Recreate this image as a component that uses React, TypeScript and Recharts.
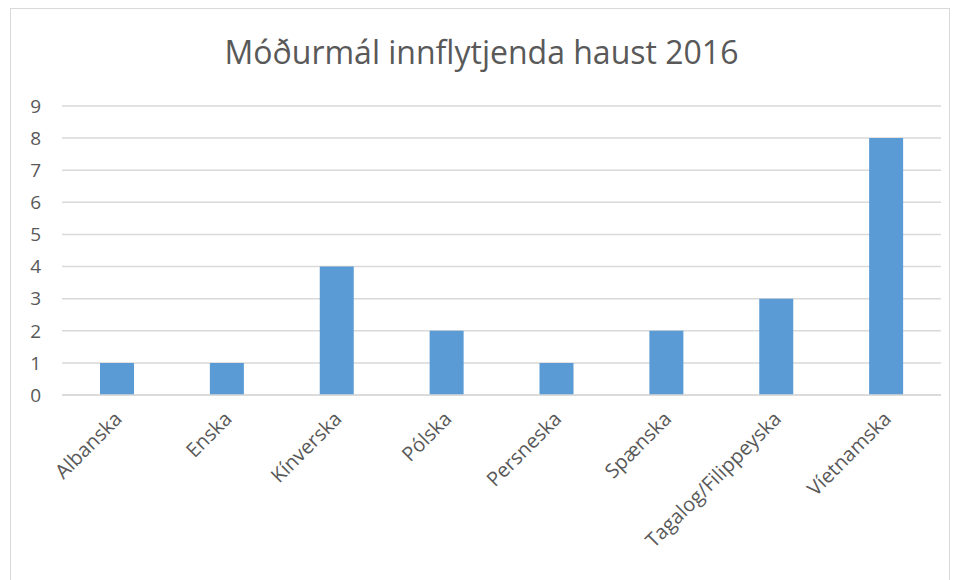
import { BarChart, Bar, XAxis, YAxis, CartesianGrid } from 'recharts'

const LANGUAGES = [
  'Albanska',
  'Enska',
  'Kínverska',
  'Pólska',
  'Persneska',
  'Spænska',
  'Tagalog/Filippeyska',
  'Víetnamska',
]
const COUNTS = [1, 1, 4, 2, 1, 2, 3, 8]
const Y_TICKS = [0, 1, 2, 3, 4, 5, 6, 7, 8, 9]

const TITLE = 'Móðurmál innflytjenda haust 2016'
const BAR_COLOUR = '#5b9bd5'
const TEXT_COLOUR = '#595959'
const GRID_COLOUR = '#d9d9d9'
const FONT = '"Open Sans", Lato, sans-serif'

const data = LANGUAGES.map((name, i) => ({ name, value: COUNTS[i] }))

// rotated category label, anchored at its end just under the tick
function SlantTick({ x, y, payload }: { x?: number; y?: number; payload?: { value: string } }) {
  return (
    <g transform={`translate(${(x ?? 0) + 2},${(y ?? 0) + 13})`}>
      <text
        transform="rotate(-45)"
        textAnchor="end"
        dy={6}
        fill={TEXT_COLOUR}
        fontSize={20}
        fontFamily={FONT}
      >
        {payload?.value}
      </text>
    </g>
  )
}

export default function App() {
  return (
    <div style={{ position: 'absolute', left: 0, top: 0, width: 958, height: 580, background: '#fff', overflow: 'hidden' }}>
      <div
        style={{
          position: 'absolute',
          left: 10,
          top: 8,
          width: 940,
          height: 600,
          border: `1px solid ${GRID_COLOUR}`,
          boxSizing: 'border-box',
        }}
      />
      <div
        style={{
          position: 'absolute',
          left: 0,
          top: 28,
          width: 963,
          textAlign: 'center',
          fontFamily: FONT,
          fontSize: 32,
          color: TEXT_COLOUR,
          lineHeight: '48px',
        }}
      >
        {TITLE}
      </div>
      <div style={{ position: 'absolute', left: 0, top: 0 }}>
        <BarChart
          width={958}
          height={580}
          data={data}
          margin={{ top: 106, right: 17, bottom: 0, left: 12 }}
        >
          <CartesianGrid horizontal vertical={false} stroke={GRID_COLOUR} strokeWidth={1.5} />
          <XAxis
            dataKey="name"
            interval={0}
            height={185}
            axisLine={{ stroke: GRID_COLOUR, strokeWidth: 1.5 }}
            tickLine={false}
            tick={<SlantTick />}
          />
          <YAxis
            domain={[0, 9]}
            ticks={Y_TICKS}
            width={50}
            axisLine={false}
            tickLine={false}
            tickMargin={15}
            tick={{ fill: TEXT_COLOUR, fontSize: 19, fontFamily: FONT }}
          />
          <Bar dataKey="value" fill={BAR_COLOUR} barSize={34} isAnimationActive={false} />
        </BarChart>
      </div>
    </div>
  )
}
